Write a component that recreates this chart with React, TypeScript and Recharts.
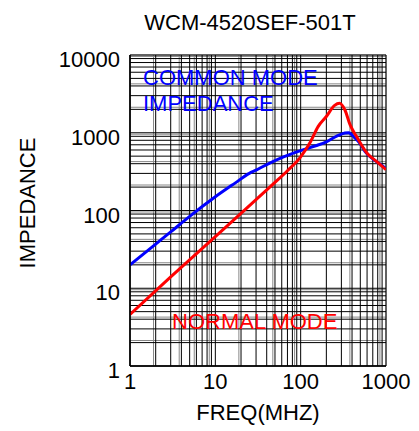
import React from "react";
import { LineChart, Line, XAxis, YAxis, CartesianGrid } from "recharts";

// common mode impedance (blue)
const cmFreq = [1, 2, 3, 5, 10, 17, 25, 30, 40, 63, 100, 150, 200, 265, 330, 365, 430, 500, 570, 700, 780, 1000];
const cmImp = [20, 37, 53, 84, 150, 225, 300, 330, 390, 490, 590, 680, 765, 905, 990, 1000, 860, 720, 570, 460, 424, 345];

// normal mode impedance (red)
const nmFreq = [1, 3, 10, 30, 50, 70, 100, 130, 160, 200, 250, 285, 330, 380, 450, 600, 780, 1000];
const nmImp = [4.6, 14, 46, 138, 230, 325, 490, 760, 1200, 1620, 2250, 2390, 1960, 1260, 900, 545, 424, 335];

const xTicks = [1, 2, 3, 4, 5, 6, 7, 8, 9, 10, 20, 30, 40, 50, 60, 70, 80, 90, 100, 200, 300, 400, 500, 600, 700, 800, 900, 1000];
const yTicks = [1, 2, 3, 4, 5, 6, 7, 8, 9, 10, 20, 30, 40, 50, 60, 70, 80, 90, 100, 200, 300, 400, 500, 600, 700, 800, 900, 1000, 2000, 3000, 4000, 5000, 6000, 7000, 8000, 9000, 10000];
const xMinor = [2, 3, 4, 5, 6, 7, 8, 9, 20, 30, 40, 50, 60, 70, 80, 90, 200, 300, 400, 500, 600, 700, 800, 900];
const yMinor = [2, 3, 4, 5, 6, 7, 8, 9, 20, 30, 40, 50, 60, 70, 80, 90, 200, 300, 400, 500, 600, 700, 800, 900, 2000, 3000, 4000, 5000, 6000, 7000, 8000, 9000];
const decades = [1, 10, 100, 1000, 10000];

const cmData = cmFreq.map((f, i) => ({ f, v: cmImp[i] }));
const nmData = nmFreq.map((f, i) => ({ f, v: nmImp[i] }));

const FONT = "'Liberation Sans', Arial, sans-serif";

const XTick = ({ x, y, payload }: any) => {
  if (!decades.includes(payload.value)) return null;
  return (
    <text x={x} y={y} dy={23} textAnchor="middle" fontFamily={FONT} fontSize={22} fill="#000">
      {payload.value}
    </text>
  );
};

const YTick = ({ x, y, payload }: any) => {
  if (!decades.includes(payload.value)) return null;
  return (
    <text x={x} y={y} dy={12} textAnchor="end" fontFamily={FONT} fontSize={22} fill="#000">
      {payload.value}
    </text>
  );
};

export default function App() {
  return (
    <div style={{ position: "absolute", left: 0, top: 0, width: 419, height: 431, background: "#fff" }}>
      <LineChart
        width={419}
        height={431}
        margin={{ top: 55, right: 33, bottom: 25, left: 0 }}
      >
        {/* faint secondary grid, slightly offset like the scanned datasheet */}
        <CartesianGrid xAxisId="g" yAxisId="g" stroke="#888" strokeWidth={1} />
        <CartesianGrid stroke="#000" strokeWidth={1} />
        <XAxis
          xAxisId="g"
          dataKey="f"
          type="number"
          scale="log"
          domain={[1.06, 1060]}
          ticks={xMinor}
          allowDataOverflow
          hide
        />
        <YAxis
          yAxisId="g"
          type="number"
          scale="log"
          domain={[0.94, 9400]}
          ticks={yMinor}
          allowDataOverflow
          hide
        />
        <XAxis
          dataKey="f"
          type="number"
          scale="log"
          domain={[1, 1000]}
          ticks={xTicks}
          allowDataOverflow
          height={40}
          tickLine={false}
          tickSize={0}
          tickMargin={0}
          axisLine={{ stroke: "#000", strokeWidth: 1.5 }}
          tick={<XTick />}
          interval={0}
        />
        <YAxis
          type="number"
          scale="log"
          domain={[1, 10000]}
          ticks={yTicks}
          allowDataOverflow
          width={130}
          tickLine={false}
          tickSize={0}
          tickMargin={10}
          axisLine={{ stroke: "#000", strokeWidth: 1.5 }}
          tick={<YTick />}
          interval={0}
        />
        <Line data={cmData} dataKey="v" type="monotone" stroke="#0000ff" strokeWidth={3} dot={false} isAnimationActive={false} />
        <Line data={nmData} dataKey="v" type="monotone" stroke="#ff0000" strokeWidth={3} dot={false} isAnimationActive={false} />
      </LineChart>
      <svg width={419} height={431} style={{ position: "absolute", left: 0, top: 0, pointerEvents: "none" }}>
        <g fontFamily={FONT} fontSize={21}>
          <text x={250} y={30} textAnchor="middle" fill="#000" fontSize={22}>WCM-4520SEF-501T</text>
          <text x={35} y={203} textAnchor="middle" fill="#000" fontSize={22} transform="rotate(-90 35 203)">IMPEDANCE</text>
          <text x={258} y={420} textAnchor="middle" fill="#000" fontSize={22}>FREQ(MHZ)</text>
          <text x={143} y={85} fill="#0000ff" fontSize={22}>COMMON MODE</text>
          <text x={143} y={111} fill="#0000ff" fontSize={22}>IMPEDANCE</text>
          <text x={172} y={329} fill="#ff0000" fontSize={22}>NORMAL MODE</text>
        </g>
      </svg>
    </div>
  );
}
